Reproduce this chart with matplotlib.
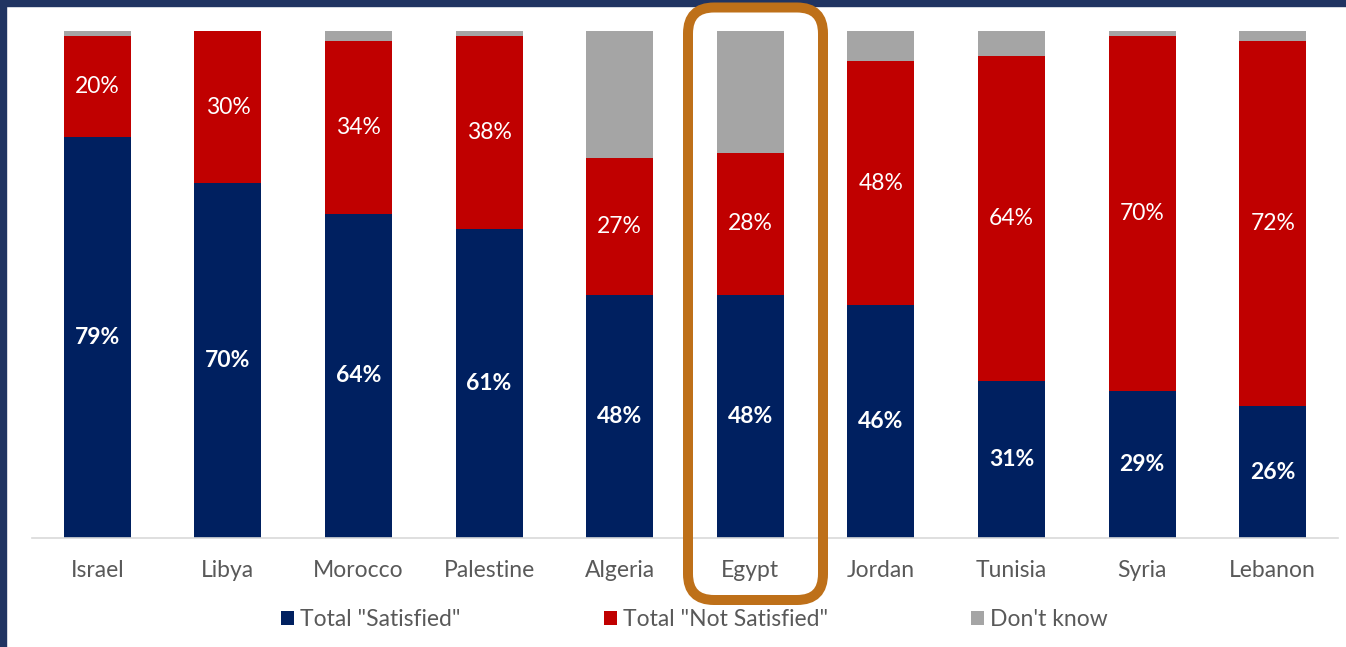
import numpy as np
import matplotlib
matplotlib.use("Agg")
import matplotlib.pyplot as plt
from matplotlib.patches import FancyBboxPatch, Rectangle

plt.rcParams['font.family'] = ['Lato', 'DejaVu Sans']

## Data
countries = ['Israel', 'Libya', 'Morocco', 'Palestine', 'Algeria',
             'Egypt', 'Jordan', 'Tunisia', 'Syria', 'Lebanon']
satisfied = np.array([79, 70, 64, 61, 48, 48, 46, 31, 29, 26])
not_satisfied = np.array([20, 30, 34, 38, 27, 28, 48, 64, 70, 72])
dont_know = np.array([1, 0, 2, 1, 25, 24, 6, 5, 1, 2])
series_names = ['Total "Satisfied"', 'Total "Not Satisfied"', "Don't know"]

navy = '#002060'
red = '#C00000'
grey = '#A5A5A5'
text_grey = '#595959'

W, H = 1346, 647
fig = plt.figure(figsize=(W / 100, H / 100), dpi=100)
ax = fig.add_axes([32 / W, 109 / H, 1306 / W, 507 / H])

x = np.arange(len(countries))
bw = 0.513
b1 = ax.bar(x, satisfied, bw, color=navy, label=series_names[0])
b2 = ax.bar(x, not_satisfied, bw, bottom=satisfied, color=red, label=series_names[1])
b3 = ax.bar(x, dont_know, bw, bottom=satisfied + not_satisfied, color=grey, label=series_names[2])

## Labels inside segments
for i in range(len(x)):
    ax.text(x[i], satisfied[i] / 2, f'{satisfied[i]}%', ha='center', va='center',
            color='white', fontsize=16.5, fontweight='bold')
    ax.text(x[i], satisfied[i] + not_satisfied[i] / 2, f'{not_satisfied[i]}%',
            ha='center', va='center', color='white', fontsize=16.5)

ax.set_xlim(-0.5, len(x) - 0.5)
ax.set_ylim(0, 100)
ax.set_xticks(x)
ax.set_xticklabels(countries, fontsize=16.5, color=text_grey)
ax.tick_params(axis='x', length=0, pad=16)
ax.set_yticks([])
for s in ['left', 'right', 'top']:
    ax.spines[s].set_visible(False)
ax.spines['bottom'].set_color('#D9D9D9')
ax.spines['bottom'].set_linewidth(1.2)

## Legend, one entry per position
leg_x = [281, 604, 971]
for h, name, lx in zip([b1, b2, b3], series_names, leg_x):
    lg = fig.legend([h], [name], loc='center left',
                    bbox_to_anchor=(lx / W, (H - 620) / H), frameon=False,
                    fontsize=16.5, handlelength=0.57, handleheight=0.57,
                    handletextpad=0.25, borderpad=0, borderaxespad=0)
    for t in lg.get_texts():
        t.set_color(text_grey)

## Frame border (left and top)
fig.patches.append(Rectangle((0, 0), 6 / W, 1, transform=fig.transFigure,
                             color='#203462', zorder=10))
fig.patches.append(Rectangle((0, 1 - 6 / H), 1, 6 / H, transform=fig.transFigure,
                             color='#203462', zorder=10))

## Highlight box around Egypt
box = FancyBboxPatch((6.88, 0.47), 1.35, 5.925,
                     boxstyle='round,pad=0,rounding_size=0.26',
                     transform=fig.dpi_scale_trans, fill=False,
                     edgecolor='#BE7019', linewidth=7.2, zorder=11)
fig.patches.append(box)

fig.savefig('out.png', dpi=100)
